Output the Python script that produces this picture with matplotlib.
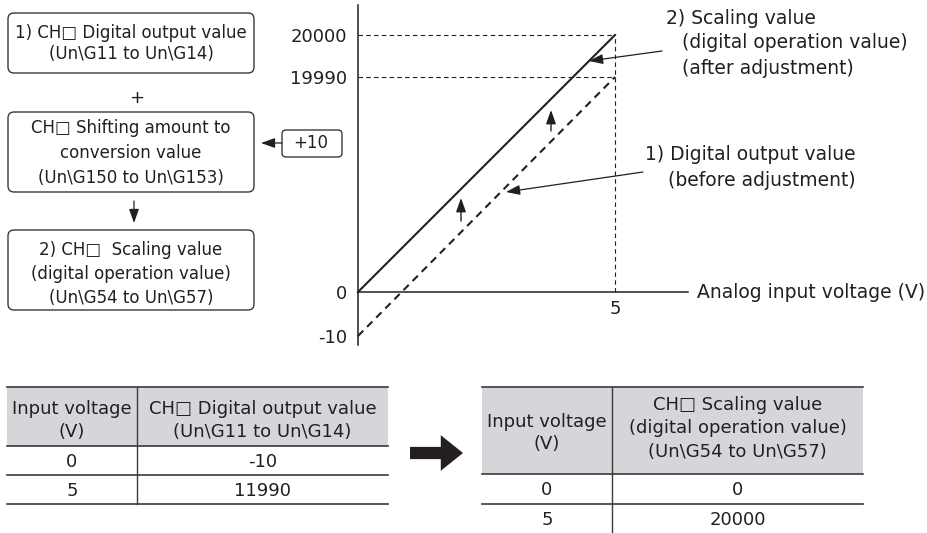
import numpy as np
import matplotlib.pyplot as plt
from matplotlib.patches import FancyBboxPatch, Rectangle

plt.rcParams['font.family'] = ['DejaVu Sans']
plt.rcParams['font.size'] = 12

INK = '#231f20'

# characteristic: input voltage vs. digital value
voltage = [0, 5]
digital_before = [-10, 19990]
scaling_after = [0, 20000]
y_ticks = [20000, 19990, 0, -10]
x_ticks = [5]

# flow boxes on the left
box1_lines = ['1) CH\u25a1 Digital output value', '(Un\\G11 to Un\\G14)']
box2_lines = ['CH\u25a1 Shifting amount to', 'conversion value', '(Un\\G150 to Un\\G153)']
box3_lines = ['2) CH\u25a1  Scaling value', '(digital operation value)', '(Un\\G54 to Un\\G57)']
shift_label = '+10'

# tables
table1_header = [['Input voltage', '(V)'],
                 ['CH\u25a1 Digital output value', '(Un\\G11 to Un\\G14)']]
table1_rows = [['0', '-10'], ['5', '11990']]
table2_header = [['Input voltage', '(V)'],
                 ['CH\u25a1 Scaling value', '(digital operation value)', '(Un\\G54 to Un\\G57)']]
table2_rows = [['0', '0'], ['5', '20000']]

BOX_FS = 12
TABLE_FS = 13
LABEL_FS = 13.5
TICK_FS = 13

fig = plt.figure(figsize=(9.27, 5.33), dpi=100)

# background axes in pixel units for boxes, tables and labels
bg = fig.add_axes([0, 0, 1, 1])
bg.set_xlim(0, 927)
bg.set_ylim(533, 0)
bg.axis('off')


def box(x0, y0, x1, y1, r=6):
    bg.add_patch(FancyBboxPatch((x0, y0), x1 - x0, y1 - y0,
                                boxstyle=f'round,pad=0,rounding_size={r}',
                                fc='white', ec='#3a3a3a', lw=1.0))


def lines_at(x, ys, lines, fs=BOX_FS):
    for y, s in zip(ys, lines):
        bg.text(x, y, s, ha='center', va='center', color=INK, fontsize=fs)


def label(x, y, s):
    bg.text(x, y, s, ha='left', va='center', color=INK, fontsize=LABEL_FS)


def arrow(x0, y0, x1, y1, lw=0.9, hl=0.7, hw=0.25, ms=12):
    bg.annotate('', xy=(x1, y1), xytext=(x0, y0),
                arrowprops=dict(arrowstyle=f'-|>,head_length={hl},head_width={hw}',
                                lw=lw, color=INK, shrinkA=0, shrinkB=0,
                                mutation_scale=ms))


box(8, 13, 254, 73)
lines_at(131, [33, 54], box1_lines)
bg.text(137, 98, '+', ha='center', va='center', color=INK, fontsize=13)
box(8, 112, 254, 192)
lines_at(131, [128, 153, 178], box2_lines)
arrow(134, 201, 134, 223)
box(8, 230, 254, 310)
lines_at(131, [250, 274, 298], box3_lines)

box(282, 130, 342, 157, r=4)
bg.text(311, 143, shift_label, ha='center', va='center', color=INK, fontsize=BOX_FS)
arrow(282, 143, 261, 143)

# chart axes; the value axis is a schematic, piecewise scale
SV = [-10, 0, 19990, 20000]
SH = [-44, 0, 215, 257]


def fwd(v):
    v = np.asarray(v, float)
    out = np.interp(v, SV, SH)
    out = np.where(v < SV[0], SH[0] + (v - SV[0]) * 4.4, out)
    out = np.where(v > SV[-1], SH[-1] + (v - SV[-1]) * 4.2, out)
    return out


def inv(h):
    h = np.asarray(h, float)
    out = np.interp(h, SH, SV)
    out = np.where(h < SH[0], SV[0] + (h - SH[0]) / 4.4, out)
    out = np.where(h > SH[-1], SV[-1] + (h - SH[-1]) / 4.2, out)
    return out


ax = fig.add_axes([358 / 927, (533 - 345) / 533, 330 / 927, 340 / 533])
ax.patch.set_alpha(0)
ax.set_yscale('function', functions=(fwd, inv))
ax.set_xlim(0, 5 * 330 / 257)
ax.set_ylim(float(inv(-53)), float(inv(287)))
for s in ['top', 'right']:
    ax.spines[s].set_visible(False)
ax.spines['bottom'].set_position(('data', 0))
for s in ['left', 'bottom']:
    ax.spines[s].set_color(INK)
    ax.spines[s].set_linewidth(1.1)

ax.set_yticks(y_ticks)
ax.set_yticklabels([str(t) for t in y_ticks])
ax.yaxis.set_minor_locator(plt.NullLocator())
ax.set_xticks(x_ticks)
ax.set_xticklabels([str(t) for t in x_ticks])
ax.tick_params(axis='y', length=0, pad=8, colors=INK, labelsize=TICK_FS)
ax.tick_params(axis='x', length=0, pad=6, colors=INK, labelsize=TICK_FS)

# guide lines
for lvl in [scaling_after[-1], digital_before[-1]]:
    ax.plot([0, voltage[-1]], [lvl, lvl], color=INK, lw=0.8,
            dashes=(4, 3), clip_on=False)
ax.plot([voltage[-1], voltage[-1]], [0, scaling_after[-1]], color=INK, lw=0.8,
        dashes=(4, 3), clip_on=False)

ax.plot(voltage, digital_before, color=INK, lw=1.5, dashes=(3.6, 2.6), clip_on=False)
ax.plot(voltage, scaling_after, color=INK, lw=1.5, clip_on=False)

# labels and pointers
label(697, 292, 'Analog input voltage (V)')
label(666, 18, '2) Scaling value')
label(682, 43, '(digital operation value)')
label(682, 68, '(after adjustment)')
arrow(662, 51, 589, 61)
label(645, 155, '1) Digital output value')
label(668, 181, '(before adjustment)')
arrow(643, 172, 506, 192)
arrow(551, 131, 551, 110, lw=1.0)
arrow(461, 221, 461, 198, lw=1.0)

# tables
HEAD = '#d4d6d9'
LINE = '#3a3a3a'


def table(x0, xm, x1, top, head_bot, row_ys, bottom, header, header_ys, rows, text_ys,
          last_line=True):
    bg.add_patch(Rectangle((x0, top), x1 - x0, head_bot - top, fc=HEAD, ec='none'))
    hlines = [top, head_bot] + row_ys + ([bottom] if last_line else [])
    for y in hlines:
        bg.plot([x0, x1], [y, y], color=LINE, lw=1.2)
    bg.plot([xm, xm], [top, bottom], color=LINE, lw=1.0)
    for cx, lines, ys in zip([(x0 + xm) / 2, (xm + x1) / 2], header, header_ys):
        lines_at(cx, ys, lines, TABLE_FS)
    for row, y in zip(rows, text_ys):
        lines_at((x0 + xm) / 2, [y], [row[0]], TABLE_FS)
        lines_at((xm + x1) / 2, [y], [row[1]], TABLE_FS)


table(7, 137, 388, 387, 446, [475], 504, table1_header,
      [[409, 432], [409, 432]], table1_rows, [462, 491])
table(482, 612, 863, 387, 474, [504], 533, table2_header,
      [[422, 444], [405, 428, 452]], table2_rows, [490, 520], last_line=False)

# big arrow between the tables
bg.annotate('', xy=(463, 453), xytext=(410, 453),
            arrowprops=dict(arrowstyle='simple,head_length=1.0,head_width=1.6,tail_width=0.55',
                            fc=INK, ec=INK, lw=0, shrinkA=0, shrinkB=0, mutation_scale=16))

fig.savefig('out.png', dpi=100)
